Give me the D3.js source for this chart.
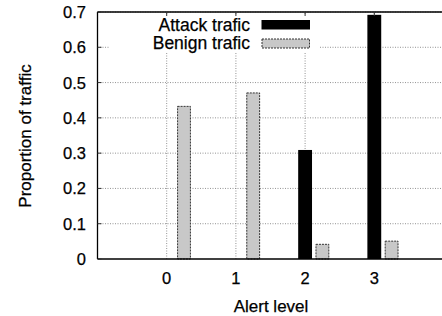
<!DOCTYPE html>
<html>
<head>
<meta charset="utf-8">
<script src="https://cdn.jsdelivr.net/npm/d3@7"></script>
<style>
  body { margin: 0; background: #fff; }
  svg { display: block; }
  text { font-family: "Liberation Sans", Arial, sans-serif; fill: #000; stroke: #000; stroke-width: 0.25px; }
</style>
</head>
<body>
<svg class="chart"></svg>
<script>
// data
var levels = [0, 1, 2, 3];
var attack = [0, 0, 0.309, 0.692];
var benign = [0.434, 0.472, 0.043, 0.052];
var yTicks = [0, 0.1, 0.2, 0.3, 0.4, 0.5, 0.6, 0.7];
var seriesNames = ['Attack trafic', 'Benign trafic'];

var width = 442,
	height = 316;

var margin = {top: 12, right: -1.5, bottom: 57, left: 97.5};

var x = d3.scaleLinear().domain([-1, 4]).range([margin.left, width - margin.right]),
	y = d3.scaleLinear().domain([0, 0.7]).range([height - margin.bottom, margin.top]);

var barW = 0.2;

var svg = d3.select('.chart')
	.attr('width', width)
	.attr('height', height);

// grid lines
svg.append('g').selectAll('line')
	.data(yTicks.slice(1))
	.enter().append('line')
	.attr('x1', x(-1)).attr('x2', x(4))
	.attr('y1', function(d) { return y(d); })
	.attr('y2', function(d) { return y(d); })
	.attr('stroke', '#777').attr('stroke-width', 0.8)
	.attr('stroke-dasharray', '1,1.5');

svg.append('g').selectAll('line')
	.data(levels)
	.enter().append('line')
	.attr('x1', function(d) { return x(d); })
	.attr('x2', function(d) { return x(d); })
	.attr('y1', y(0)).attr('y2', y(0.7))
	.attr('stroke', '#777').attr('stroke-width', 0.8)
	.attr('stroke-dasharray', '1,1.5');

// legend background hides the grid
svg.append('rect')
	.attr('x', 110).attr('y', 15)
	.attr('width', 210).attr('height', 38)
	.attr('fill', '#fff');

// bars
svg.append('g').selectAll('rect')
	.data(attack)
	.enter().append('rect')
	.attr('x', function(d, i) { return x(levels[i] - barW / 2); })
	.attr('y', function(d) { return y(d); })
	.attr('width', x(barW) - x(0))
	.attr('height', function(d) { return y(0) - y(d); })
	.attr('fill', '#000');

svg.append('g').selectAll('rect')
	.data(benign)
	.enter().append('rect')
	.attr('x', function(d, i) { return x(levels[i] + 0.25 - barW / 2) + 0.5; })
	.attr('y', function(d) { return y(d) + 0.5; })
	.attr('width', x(barW) - x(0) - 1)
	.attr('height', function(d) { return y(0) - y(d) - 0.5; })
	.attr('fill', '#c8c8c8')
	.attr('stroke', '#333').attr('stroke-width', 1)
	.attr('stroke-dasharray', '2,1');

// axes frame
var frame = svg.append('g').attr('stroke', '#000').attr('stroke-width', 1.3);
frame.append('line').attr('x1', x(-1)).attr('x2', x(-1)).attr('y1', y(0)).attr('y2', y(0.7));
frame.append('line').attr('x1', x(-1)).attr('x2', x(4)).attr('y1', y(0)).attr('y2', y(0));
frame.append('line').attr('x1', x(-1)).attr('x2', x(4)).attr('y1', y(0.7)).attr('y2', y(0.7));

// tick marks, pointing inwards
svg.append('g').selectAll('line')
	.data(yTicks)
	.enter().append('line')
	.attr('x1', x(-1)).attr('x2', x(-1) + 4)
	.attr('y1', function(d) { return y(d); })
	.attr('y2', function(d) { return y(d); })
	.attr('stroke', '#333');

svg.append('g').selectAll('line')
	.data(levels)
	.enter().append('line')
	.attr('x1', function(d) { return x(d); })
	.attr('x2', function(d) { return x(d); })
	.attr('y1', y(0.7)).attr('y2', y(0.7) + 4)
	.attr('stroke', '#333');

// tick labels
svg.append('g').selectAll('text')
	.data(yTicks)
	.enter().append('text')
	.attr('x', 86)
	.attr('y', function(d) { return y(d) + 6; })
	.attr('text-anchor', 'end')
	.style('font-size', '16.5px')
	.text(function(d) { return d === 0 ? '0' : d3.format('.1f')(d); });

svg.append('g').selectAll('text')
	.data(levels)
	.enter().append('text')
	.attr('x', function(d) { return x(d); })
	.attr('y', 284)
	.attr('text-anchor', 'middle')
	.style('font-size', '16.5px')
	.text(function(d) { return d; });

// axis titles
svg.append('text')
	.attr('x', 271).attr('y', 311.5)
	.attr('text-anchor', 'middle')
	.style('font-size', '17px')
	.text('Alert level');

svg.append('text')
	.attr('transform', 'translate(31, 136) rotate(-90)')
	.attr('text-anchor', 'middle')
	.style('font-size', '17px')
	.text('Proportion of traffic');

// legend
var legend = svg.append('g');
legend.append('text')
	.attr('x', 250).attr('y', 30.5)
	.attr('text-anchor', 'end')
	.style('font-size', '17.5px')
	.text(seriesNames[0]);
legend.append('text')
	.attr('x', 250).attr('y', 49)
	.attr('text-anchor', 'end')
	.style('font-size', '17.5px')
	.text(seriesNames[1]);
legend.append('rect')
	.attr('x', 261.5).attr('y', 20)
	.attr('width', 48.5).attr('height', 9.5)
	.attr('fill', '#000');
legend.append('rect')
	.attr('x', 262).attr('y', 39)
	.attr('width', 47.5).attr('height', 9)
	.attr('fill', '#c8c8c8')
	.attr('stroke', '#333').attr('stroke-width', 1)
	.attr('stroke-dasharray', '2,1');
</script>
</body>
</html>
